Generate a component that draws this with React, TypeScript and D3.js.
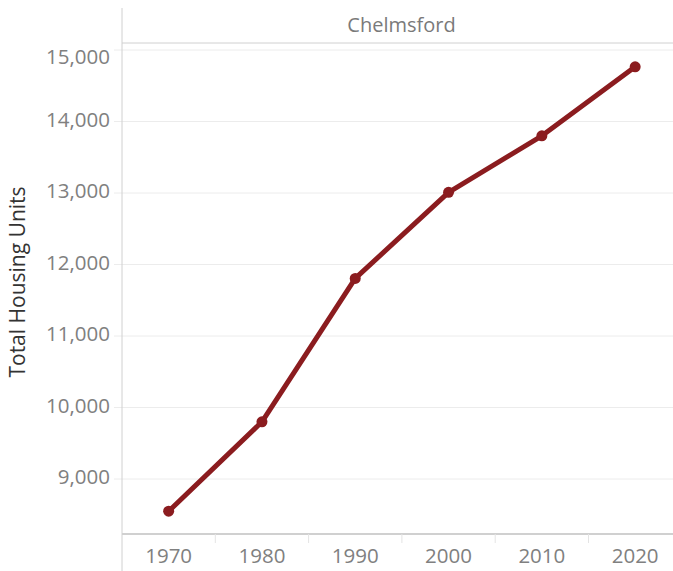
import React from 'react';
import * as d3 from 'd3';

const years = ['1970', '1980', '1990', '2000', '2010', '2020'];
const housingUnits = [8550, 9800, 11805, 13010, 13800, 14765];
const yTicks = [9000, 10000, 11000, 12000, 13000, 14000, 15000];
const town = 'Chelmsford';

const W = 673;
const H = 571;
const left = 122;
const top = 43;
const bottom = 534;

const App = () => {
  const x = d3.scaleBand().domain(years).range([left, left + 6 * 93.3]).padding(0);
  const y = d3.scaleLinear().domain([8231, 15098]).range([bottom, top]);

  const pts = years.map((yr, i) => ({ yr, v: housingUnits[i] }));
  const line = d3
    .line<{ yr: string; v: number }>()
    .x(d => (x(d.yr) as number) + x.bandwidth() / 2)
    .y(d => y(d.v));

  const fmt = d3.format(',');
  const font = '"Open Sans", sans-serif';
  const red = '#8b1c1f';

  return (
    <svg width={W} height={H} style={{ position: 'absolute', left: 0, top: 0 }}>
      <rect width={W} height={H} fill="#fff" />
      {/* gridlines */}
      {yTicks.map(t => (
        <line key={t} x1={114} x2={W} y1={y(t)} y2={y(t)} stroke="#ececec" strokeWidth={1} />
      ))}
      {/* header */}
      <line x1={left} x2={W} y1={top} y2={top} stroke="#d0d0d0" />
      <text x={(left + W) / 2 + 4} y={27} textAnchor="middle" dominantBaseline="middle"
        fontFamily={font} fontSize={20} fill="#7a7a7a">{town}</text>
      {/* axes */}
      <line x1={left} x2={left} y1={8} y2={H} stroke="#d0d0d0" />
      <line x1={left} x2={W} y1={bottom} y2={bottom} stroke="#d0d0d0" strokeWidth={2} />
      {years.slice(1).map(yr => (
        <line key={yr} x1={x(yr)} x2={x(yr)} y1={bottom} y2={bottom + 9} stroke="#e4e4e4" />
      ))}
      {yTicks.map(t => (
        <text key={t} x={110} y={Math.max(y(t), 59)} textAnchor="end" dominantBaseline="middle"
          fontFamily={font} fontSize={20.5} fill="#808080">{fmt(t)}</text>
      ))}
      {years.map(yr => (
        <text key={yr} x={(x(yr) as number) + x.bandwidth() / 2} y={558} textAnchor="middle"
          dominantBaseline="middle" fontFamily={font} fontSize={20.5} fill="#808080">{yr}</text>
      ))}
      <text transform={`translate(19, 282) rotate(-90)`} textAnchor="middle" dominantBaseline="middle"
        fontFamily={font} fontSize={21} fill="#333">Total Housing Units</text>
      {/* series */}
      <path d={line(pts) ?? ''} fill="none" stroke={red} strokeWidth={5} strokeLinejoin="round" />
      {pts.map(p => (
        <circle key={p.yr} cx={(x(p.yr) as number) + x.bandwidth() / 2} cy={y(p.v)} r={5.5} fill={red} />
      ))}
    </svg>
  );
};

export default App;
